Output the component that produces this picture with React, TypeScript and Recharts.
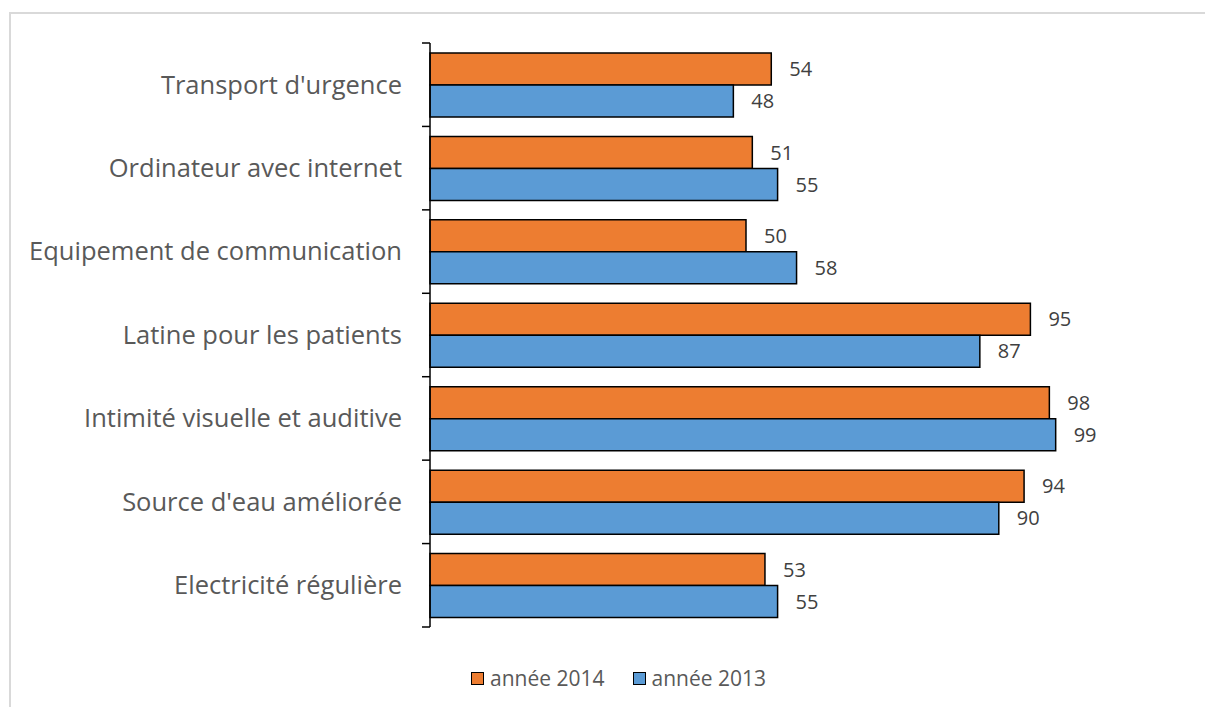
import React from 'react';
import { BarChart, Bar, XAxis, YAxis, LabelList } from 'recharts';

const categories = [
    'Transport d\'urgence',
    'Ordinateur avec internet',
    'Equipement de communication',
    'Latine pour les patients',
    'Intimité visuelle et auditive',
    'Source d\'eau améliorée',
    'Electricité régulière',
];
const values2014 = [54, 51, 50, 95, 98, 94, 53];
const values2013 = [48, 55, 58, 87, 99, 90, 55];
const seriesNames = ['année 2014', 'année 2013'];
const seriesColors = ['#ED7D31', '#5B9BD5'];

const data = categories.map((name, i) => ({
    name,
    y2014: values2014[i],
    y2013: values2013[i],
}));

const W = 1205;
const H = 707;
const AXIS_X = 430;
const FONT = '"Open Sans", sans-serif';

// category label plus tick marks on the band boundaries (Excel style)
const CategoryTick = (props: any) => {
    const { y, payload, index } = props;
    const half = payload?.offset ?? 41.7;
    return (
        <g>
            <line x1={AXIS_X - 8} x2={AXIS_X} y1={y - half} y2={y - half} stroke="#000" strokeWidth={1.5} />
            {index === categories.length - 1 && (
                <line x1={AXIS_X - 8} x2={AXIS_X} y1={y + half} y2={y + half} stroke="#000" strokeWidth={1.5} />
            )}
            <text x={AXIS_X - 28} y={y} dy="0.35em" textAnchor="end" fill="#595959" fontSize={25.5} fontFamily={FONT}>
                {payload.value}
            </text>
        </g>
    );
};

const App: React.FC = () => {
    return (
        <div style={{ position: 'absolute', left: 0, top: 0, width: W, height: H, background: '#fff', overflow: 'hidden' }}>
            {/* chart frame, only top and left edges are in view */}
            <div style={{ position: 'absolute', left: 9, top: 12, width: W - 9, height: 2, background: '#d9d9d9' }} />
            <div style={{ position: 'absolute', left: 9, top: 12, width: 2, height: H - 12, background: '#d9d9d9' }} />
            <div style={{ position: 'absolute', left: 0, top: 0 }}>
                <BarChart width={W} height={H} data={data} layout="vertical" margin={{ top: 43, right: 143, left: 0, bottom: 80 }} barGap={0}>
                    <XAxis type="number" domain={[0, 100]} hide />
                    <YAxis
                        type="category"
                        dataKey="name"
                        width={AXIS_X}
                        axisLine={{ stroke: '#000', strokeWidth: 1.5 }}
                        tickLine={false}
                        tick={<CategoryTick />}
                        interval={0}
                    />
                    <Bar dataKey="y2014" name={seriesNames[0]} fill={seriesColors[0]} stroke="#000" strokeWidth={1.5} barSize={32} isAnimationActive={false}>
                        <LabelList dataKey="y2014" position="right" offset={18} fill="#404040" fontSize={20} fontFamily={FONT} />
                    </Bar>
                    <Bar dataKey="y2013" name={seriesNames[1]} fill={seriesColors[1]} stroke="#000" strokeWidth={1.5} barSize={32} isAnimationActive={false}>
                        <LabelList dataKey="y2013" position="right" offset={18} fill="#404040" fontSize={20} fontFamily={FONT} />
                    </Bar>
                </BarChart>
            </div>
            <div style={{ position: 'absolute', left: 471, top: 664, display: 'flex', gap: 28, fontFamily: FONT, fontSize: 21, color: '#595959', lineHeight: '28px' }}>
                {seriesNames.map((n, i) => (
                    <div key={n} style={{ display: 'flex', alignItems: 'center' }}>
                        <span style={{ width: 11, height: 11, background: seriesColors[i], border: '1.5px solid #000', marginRight: 6 }} />
                        {n}
                    </div>
                ))}
            </div>
        </div>
    );
};

export default App;
